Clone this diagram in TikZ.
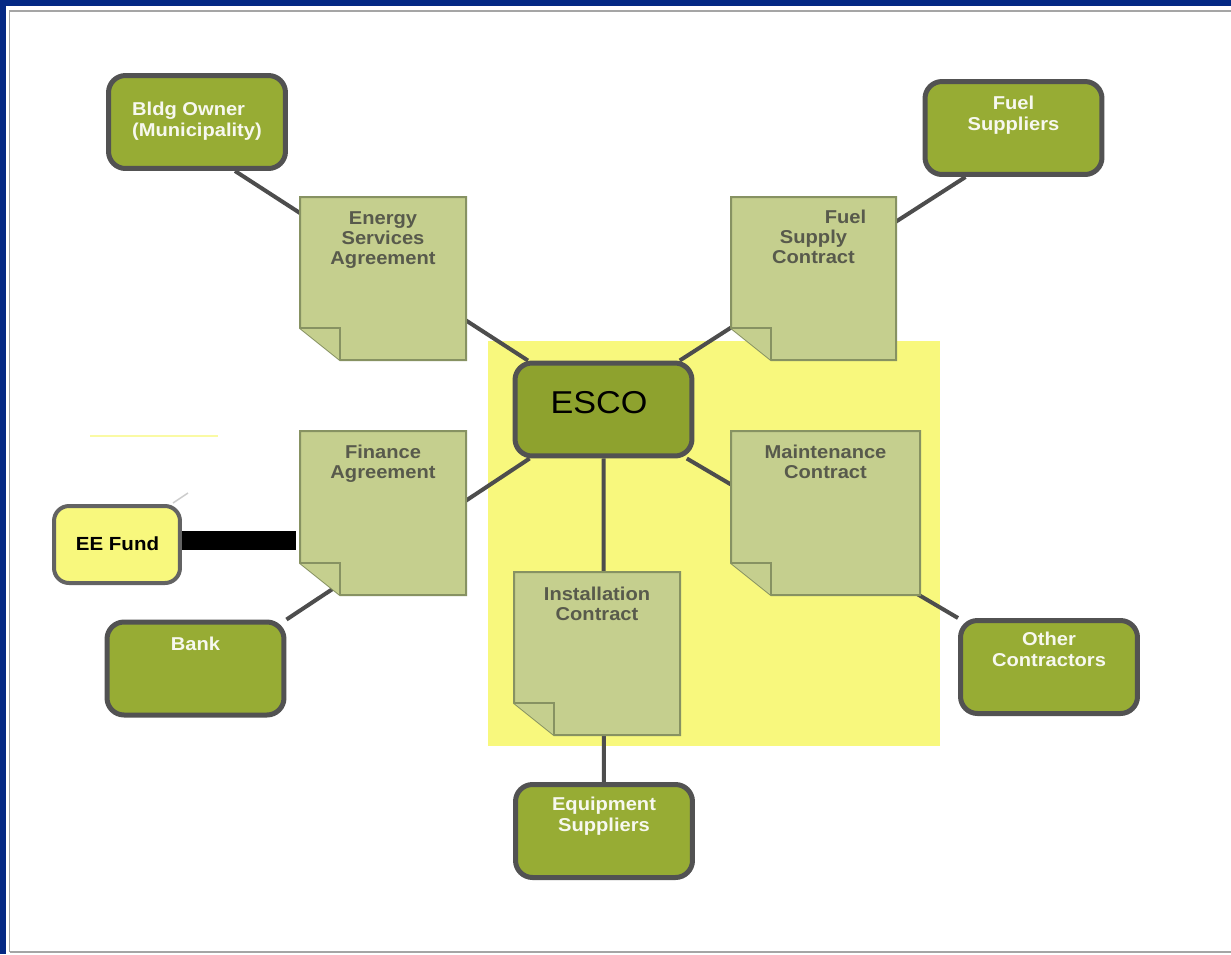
\documentclass[tikz,border=0pt]{standalone}
\usepackage{fontspec}
\setmainfont{Liberation Sans}[FakeStretch=1.08]
\usepackage{tikz}
\usetikzlibrary{calc, positioning, backgrounds}
\definecolor{frameblue}{RGB}{4,40,132}
\definecolor{panelgray}{RGB}{165,165,165}
\definecolor{olive}{RGB}{151,172,52}
\definecolor{escoolive}{RGB}{142,162,46}
\definecolor{boxgray}{RGB}{82,82,82}
\definecolor{docgreen}{RGB}{197,207,142}
\definecolor{docedge}{RGB}{135,146,98}
\definecolor{docink}{RGB}{88,90,76}
\definecolor{hiyellow}{RGB}{248,248,125}
\definecolor{linkgray}{RGB}{77,77,77}
\tikzset{
  partystyle/.style={rectangle, rounded corners=0.34cm, draw=boxgray, line width=0.1cm, minimum width=3.54cm, minimum height=1.86cm, inner sep=0},
  partytext/.style={anchor=north, inner sep=0, align=center, text=white!92!olive, font=\bfseries\fontsize{10.6}{12}\selectfont},
  docstyle/.style={rectangle, inner sep=0, outer sep=0},
  docline/.style={draw=docedge, fill=docgreen, line width=0.04cm, line join=miter},
  doctext/.style={anchor=north, inner sep=0, align=center, text=docink, font=\bfseries\fontsize{10.6}{11.4}\selectfont},
  link/.style={draw=linkgray, line width=0.08cm},
  fundbar/.style={draw=black, line width=0.38cm}
}
\newcommand\partybox[6][]{\node[partystyle, fill=olive] (#2) at (#3,#4) {};
\node[partytext, #1] (#2-txt) at (#3,#5) {#6};}
\newcommand\contractdoc[7]{\node[docstyle, minimum width={(#4-#2)*0.02cm}, minimum height={(#5-#3)*0.02cm}] (#1) at ({(#2+#4)/2},{(#3+#5)/2}) {};
\draw[docline] (#1.north west) -- (#1.north east) -- (#1.south east) -- ($(#1.south west)+(40,0)$) -- ($(#1.south west)+(0,-32)$) -- cycle;
\draw[docline] ($(#1.south west)+(0,-32)$) -- ($(#1.south west)+(40,-32)$) -- ($(#1.south west)+(40,0)$);
\node[doctext] (#1-txt) at ({(#2+#4)/2},#6) {#7};}

\begin{document}
\begin{tikzpicture}[x=0.02cm, y=-0.02cm]
\useasboundingbox (0,0) rectangle (1231,954);

\partybox[align=left]{bldg}{197}{122}{102}{Bldg Owner\\(Municipality)}
\partybox{fuelsup}{1013.5}{128}{96}{Fuel\\Suppliers}
\partybox{bank}{195.5}{668.5}{637}{Bank}
\partybox{othercon}{1049}{667}{632}{Other\\Contractors}
\partybox{equip}{604}{831}{797}{Equipment\\Suppliers}

\node[partystyle, fill=escoolive] (esco) at (603.5,409.5) {};
\node[inner sep=0, font=\fontsize{18}{20}\selectfont] (esco-txt) at (599,403) {ESCO};

\node[partystyle, fill=hiyellow, draw=boxgray!90, line width=0.08cm, minimum width=2.52cm, minimum height=1.54cm, rounded corners=0.3cm] (eefund) at (117,544.5) {};
\node[inner sep=0, font=\bfseries\fontsize{10.8}{12}\selectfont] (eefund-txt) at (117.5,544) {EE Fund};

\contractdoc{esa}{300}{197}{466}{360}{211}{Energy\\Services\\Agreement}
\contractdoc{fuelsupply}{731}{197}{896}{360}{210}{\hspace*{1.28cm}Fuel\\Supply\\Contract}
\contractdoc{finance}{300}{431}{466}{595}{445}{Finance\\Agreement}
\contractdoc{maint}{731}{431}{920}{595}{445}{Maintenance\\Contract}
\contractdoc{install}{514}{572}{680}{735}{587}{Installation\\Contract}

\begin{scope}[on background layer]
\fill[frameblue] (0,0) rectangle (1231,954);
\fill[white] (6,6) rectangle (1231,954);
\draw[panelgray, line width=0.04cm] (9.5,952) -- (9.5,10.5) -- (1231,10.5);
\draw[panelgray, line width=0.04cm] (9.5,952) -- (1231,952);
\fill[hiyellow] (488,341) rectangle (940,746);
\draw[hiyellow!70!white, line width=0.03cm] (90,436) -- (218,436);
\draw[gray!40, line width=0.03cm] (173,503) -- (188,493);
\draw[link] ($(bldg.south)+(38,0)$) -- (esco);
\draw[link] ($(fuelsup.south)+(-48,0)$) -- (esco);
\draw[link] (bank.north east) -- (esco);
\draw[link] (othercon.north west) -- (esco);
\draw[link] (equip) -- (esco);
\draw[fundbar] ($(eefund.east)+(0,-4)$) -- ($(eefund.east -| finance.west)+(-4,-4)$);
\end{scope}

\end{tikzpicture}
\end{document}
